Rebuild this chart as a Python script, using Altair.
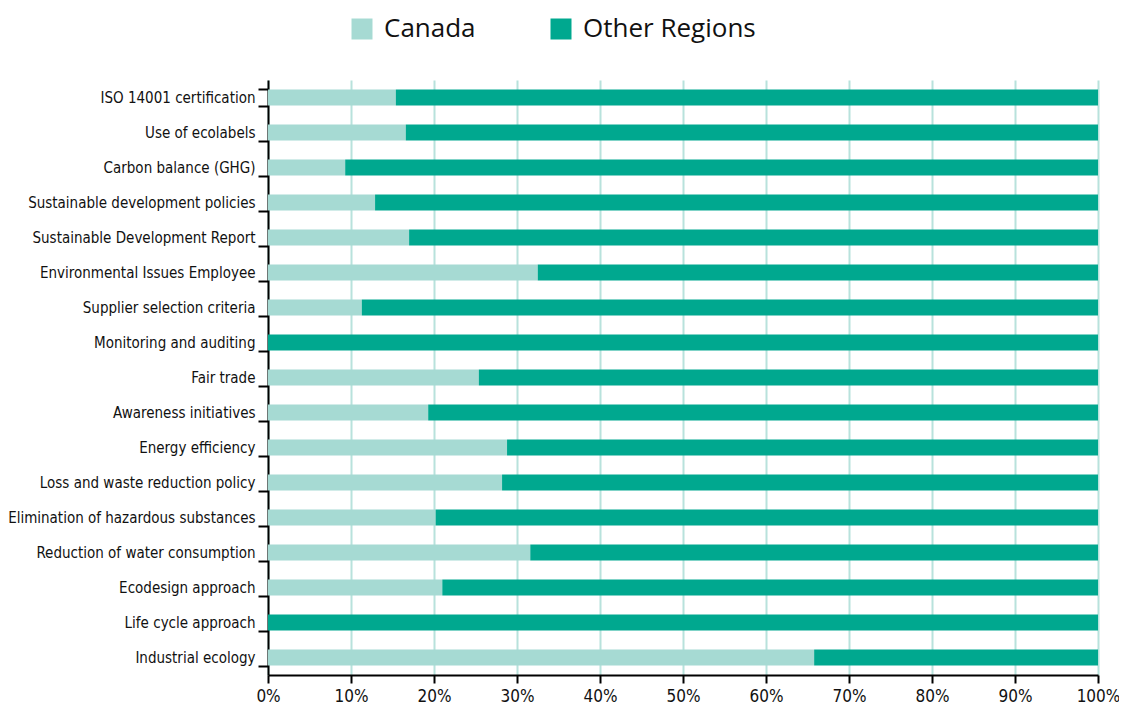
import altair as alt
import pandas as pd

categories = [
    "ISO 14001 certification", "Use of ecolabels", "Carbon balance (GHG)",
    "Sustainable development policies", "Sustainable Development Report",
    "Environmental Issues Employee", "Supplier selection criteria",
    "Monitoring and auditing", "Fair trade", "Awareness initiatives",
    "Energy efficiency", "Loss and waste reduction policy",
    "Elimination of hazardous substances", "Reduction of water consumption",
    "Ecodesign approach", "Life cycle approach", "Industrial ecology",
]
canada = [15.4, 16.6, 9.3, 12.9, 17.0, 32.5, 11.3, 0.0, 25.4, 19.3, 28.8, 28.2, 20.2, 31.6, 21.0, 0.0, 65.8]
other_regions = [84.6, 83.4, 90.7, 87.1, 83.0, 67.5, 88.7, 100.0, 74.6, 80.7, 71.2, 71.8, 79.8, 68.4, 79.0, 100.0, 34.2]
series_names = ["Canada", "Other Regions"]
series_colors = ["#a6dad3", "#00a88f"]
x_ticks = [0, 10, 20, 30, 40, 50, 60, 70, 80, 90, 100]

rows = []
for i, cat in enumerate(categories):
    rows.append({"category": cat, "series": series_names[0], "value": canada[i], "order": 0})
    rows.append({"category": cat, "series": series_names[1], "value": other_regions[i], "order": 1})
df = pd.DataFrame(rows)

LABEL_FONT = "DejaVu Sans Condensed, sans-serif"

chart = alt.Chart(df).mark_bar().encode(
    y=alt.Y(
        "category:N",
        sort=categories,
        scale=alt.Scale(paddingInner=0.54, paddingOuter=0.27),
        axis=alt.Axis(
            title=None,
            tickBand="extent",
            domainColor="black",
            domainWidth=2,
            tickColor="black",
            tickWidth=2,
            tickSize=10,
            labelPadding=3,
            labelFont=LABEL_FONT,
            labelFontSize=15,
            labelColor="#111111",
            labelLimit=400,
            grid=False,
        ),
    ),
    x=alt.X(
        "value:Q",
        stack="zero",
        scale=alt.Scale(domain=[0, 100], nice=False),
        axis=alt.Axis(
            title=None,
            values=x_ticks,
            labelExpr="datum.value + '%'",
            labelFlush=False,
            domainColor="black",
            domainWidth=2,
            tickColor="black",
            tickWidth=2,
            tickSize=8,
            labelPadding=5,
            labelFont=LABEL_FONT,
            labelFontSize=17,
            labelColor="#111111",
            grid=True,
            gridColor="#b8e2dc",
            gridWidth=2,
        ),
    ),
    color=alt.Color(
        "series:N",
        scale=alt.Scale(domain=series_names, range=series_colors),
        legend=alt.Legend(
            title=None,
            orient="none",
            direction="horizontal",
            legendX=81,
            legendY=-64,
            padding=0,
            symbolType="square",
            symbolSize=441,
            symbolStrokeWidth=0,
            symbolOpacity=1,
            labelFont="Open Sans, Lato, sans-serif",
            labelFontSize=26,
            labelColor="#111111",
            labelOffset=9,
            columnPadding=72,
            labelLimit=400,
        ),
    ),
    order=alt.Order("order:Q"),
).properties(
    width=830,
    height=595,
    autosize=alt.AutoSizeParams(type="none"),
    padding={"left": 260, "right": 21, "top": 72, "bottom": 44},
).configure_view(
    stroke=None
)

chart.save("out.html", embed_options={"renderer": "svg", "actions": False})
